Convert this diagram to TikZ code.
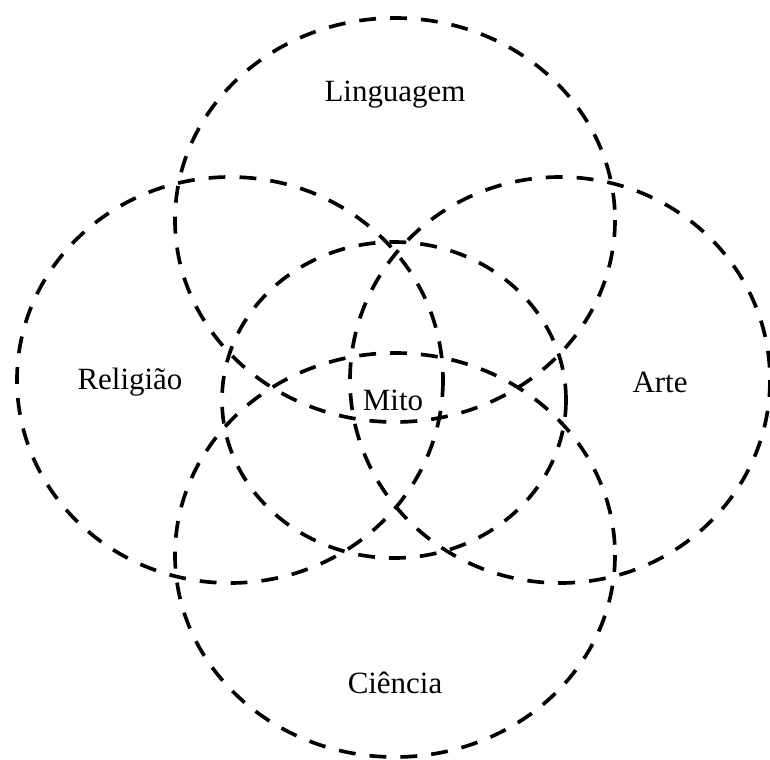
\documentclass[tikz,border=0pt]{standalone}
\usepackage{fontspec}
\setmainfont{Liberation Serif}
\begin{document}
\begin{tikzpicture}[x=0.025cm,y=-0.025cm]
  \tikzset{ring/.style={draw,line width=2.6pt,dash pattern=on 12pt off 10pt},
    lbl/.style={font=\fontsize{22}{26}\selectfont,inner sep=1pt}}
  \useasboundingbox (0,0) rectangle (770,759);
  \draw[ring] (395,220) ellipse [x radius=220,y radius=202];
  \draw[ring] (230,380) ellipse [x radius=213,y radius=203];
  \draw[ring] (560,380) ellipse [x radius=210,y radius=203];
  \draw[ring] (394,400) ellipse [x radius=172,y radius=158];
  \draw[ring] (395,555) ellipse [x radius=220,y radius=202];
  \node[lbl] (ling) at (395,95) {Linguagem};
  \node[lbl] (rel) at (130,382) {Religião};
  \node[lbl] (mito) at (393,400) {Mito};
  \node[lbl] (arte) at (660,382) {Arte};
  \node[lbl] (cien) at (395,683) {Ciência};
\end{tikzpicture}
\end{document}
